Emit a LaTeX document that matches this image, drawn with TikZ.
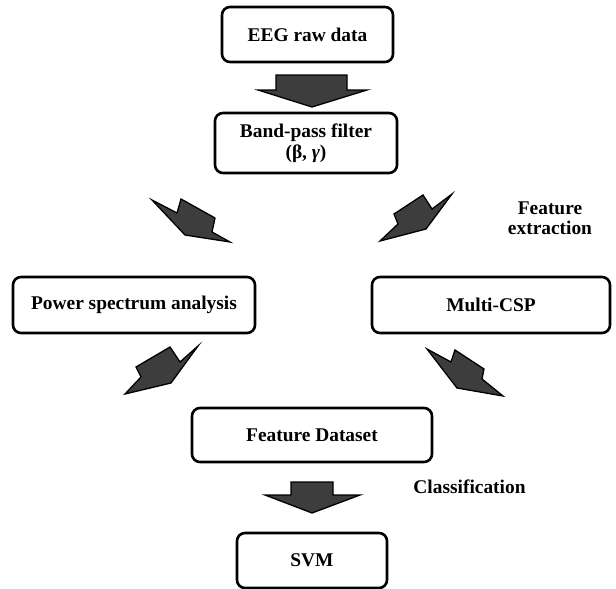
\documentclass[tikz,border=0pt]{standalone}
\usepackage{fontspec}
\setmainfont{Liberation Serif}
\begin{document}
\begin{tikzpicture}[x=1pt,y=-1pt,
  box/.style={draw=black, line width=2.6pt, rounded corners=8pt, fill=white,
    inner sep=0pt, font=\fontsize{19.4}{21}\selectfont\bfseries, align=center},
  blockarrow/.style={fill=black!76, draw=black, line width=1.3pt, line join=miter},
  lbl/.style={font=\fontsize{19.4}{20.5}\selectfont\bfseries, align=center, inner sep=0pt}]
\useasboundingbox (0,0) rectangle (616,589);
% boxes
\node[box, minimum width=171pt, minimum height=55pt] (eeg) at (307.5,34.5) {EEG raw data};
\node[box, minimum width=182pt, minimum height=60pt] (band) at (306,143) {Band-pass filter\\(β, \textit{γ})};
\node[box, minimum width=242pt, minimum height=56pt] (power) at (134,305) {Power spectrum analysis};
\node[box, minimum width=238pt, minimum height=56pt] (csp) at (491,305) {Multi-CSP};
\node[box, minimum width=240pt, minimum height=54pt] (fd) at (312,435) {Feature Dataset};
\node[box, minimum width=150pt, minimum height=55pt] (svm) at (312,560.5) {SVM};
% labels
\node[lbl] (fe) at (550,218) {Feature\\extraction};
\node[lbl] (cls) at (469.5,487) {Classification};
% block arrows
\draw[blockarrow] (276,75) -- (347,75) -- (347,90) -- (367,90) -- (312,107) -- (258,90) -- (276,90) -- cycle;
\draw[blockarrow] (152,200) -- (177,213) -- (181,199) -- (215,218) -- (212,232) -- (230,242) -- (185,235) -- cycle;
\draw[blockarrow] (452,194) -- (432,209) -- (423,195) -- (394,214) -- (398,224) -- (380,241) -- (426,229) -- cycle;
\draw[blockarrow] (198,346) -- (180,362) -- (170,347) -- (136,367) -- (141,377) -- (125,394) -- (171,383) -- cycle;
\draw[blockarrow] (427,349) -- (451,362) -- (455,350) -- (484,369) -- (482,379) -- (503,396) -- (457,388) -- cycle;
\draw[blockarrow] (291,482) -- (333,482) -- (333,495) -- (360,495) -- (312,513) -- (265,495) -- (291,495) -- cycle;
\end{tikzpicture}
\end{document}
